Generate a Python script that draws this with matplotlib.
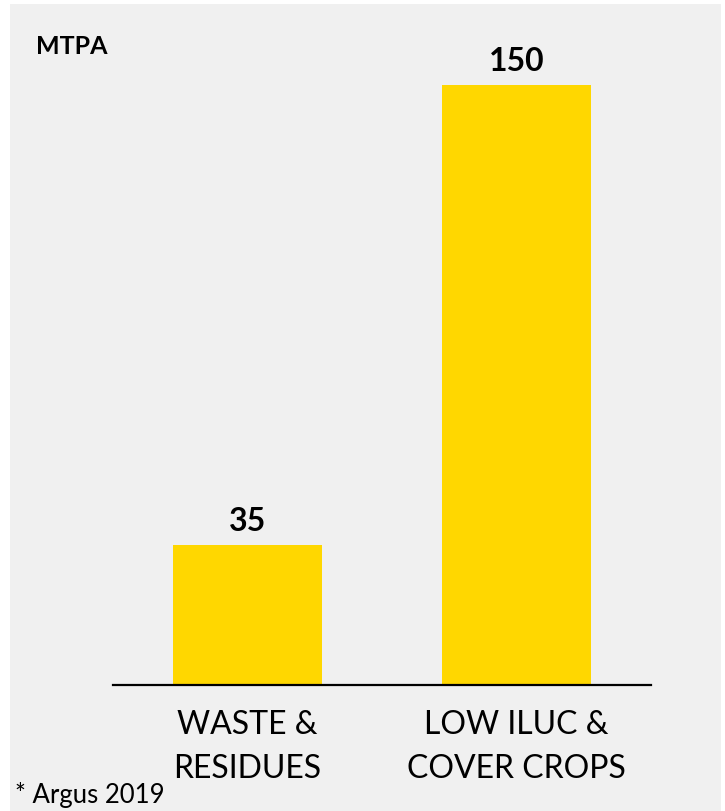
import matplotlib
matplotlib.use("Agg")
import matplotlib.pyplot as plt
from matplotlib.patches import Rectangle
from matplotlib.transforms import blended_transform_factory

categories = ["WASTE &\nRESIDUES", "LOW ILUC &\nCOVER CROPS"]
values = [35, 150]
unit_label = "MTPA"
footnote = "* Argus 2019"

W, H = 725, 812
plt.rcParams['font.family'] = ['Lato', 'DejaVu Sans']

fig = plt.figure(figsize=(W / 100, H / 100), dpi=100, facecolor="white")
bg = Rectangle((10 / W, 0), (721 - 10) / W, (H - 5) / H, transform=fig.transFigure,
               facecolor="#f0f0f0", edgecolor="none", zorder=-10)
fig.patches.append(bg)

ax = fig.add_axes([113 / W, (H - 686) / H, (651 - 113) / W, 640 / H])
ax.set_zorder(1)
ax.set_facecolor("none")
x = list(range(len(categories)))
bars = ax.bar(x, values, width=0.554, color="#FFD700", zorder=2)
ax.set_xlim(-0.5, 1.5)
ax.set_ylim(0, 160)
for s in ["left", "right", "top"]:
    ax.spines[s].set_visible(False)
ax.spines["bottom"].set_linewidth(1.6)
ax.spines["bottom"].set_color("#000000")
ax.spines["bottom"].set_zorder(3)
ax.set_yticks([])
ax.set_xticks([])

for xi, v in zip(x, values):
    ax.annotate(str(v), (xi, v), xytext=(0, 11), textcoords="offset points",
                ha="center", va="baseline", fontsize=23, fontweight="bold", color="#000000")

trans = blended_transform_factory(ax.transData, fig.transFigure)
line_baselines = [734, 778]
for xi, cat in zip(x, categories):
    for line, yb in zip(cat.split("\n"), line_baselines):
        ax.text(xi, 1 - yb / H, line, transform=trans, ha="center", va="baseline",
                fontsize=23, color="#000000", clip_on=False)

fig.text(36 / W, 1 - 54 / H, unit_label, ha="left", va="baseline", fontsize=18,
         fontweight="bold", color="#000000")
fig.text(15 / W, 1 - 803 / H, footnote, ha="left", va="baseline", fontsize=18.5,
         color="#000000")

fig.savefig("out.png", dpi=100, facecolor=fig.get_facecolor())
